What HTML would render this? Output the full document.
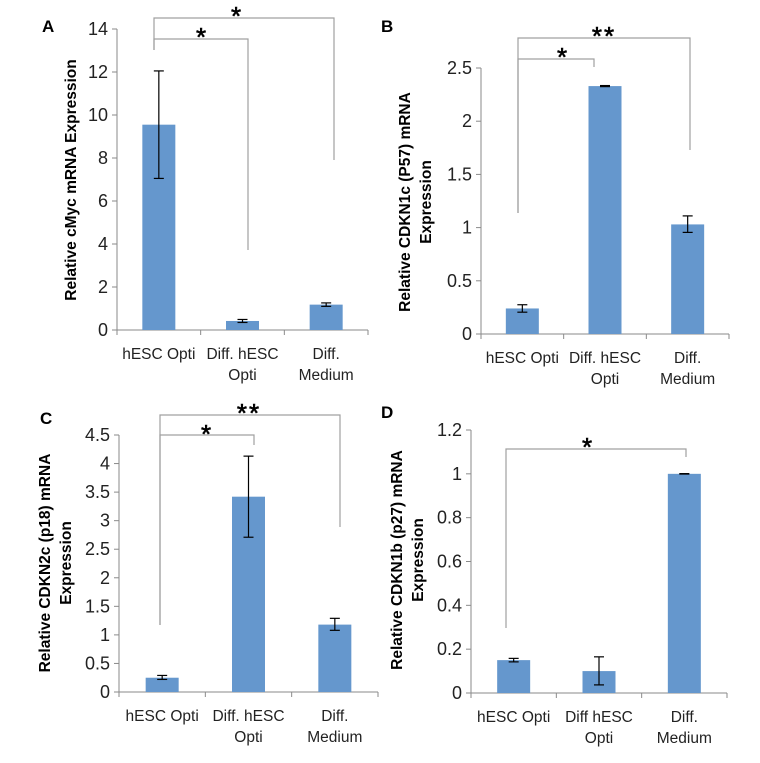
<!DOCTYPE html>
<html><head><meta charset="utf-8"><style>
body{margin:0;background:#fff;}
svg{display:block;font-family:"Liberation Sans",sans-serif;}
</style></head><body>
<svg id="fig" width="760" height="763" viewBox="0 0 760 763"></svg>
<script>
const categoriesA = ["hESC Opti", "Diff. hESC|Opti", "Diff.|Medium"];
const valuesA = [9.55, 0.42, 1.18];
const errLowA = [7.05, 0.35, 1.10];
const errHighA = [12.05, 0.49, 1.26];
const ticksA = [0, 2, 4, 6, 8, 10, 12, 14];

const categoriesB = ["hESC Opti", "Diff. hESC|Opti", "Diff.|Medium"];
const valuesB = [0.24, 2.33, 1.03];
const errLowB = [0.205, 2.325, 0.955];
const errHighB = [0.275, 2.335, 1.11];
const ticksB = [0, 0.5, 1, 1.5, 2, 2.5];

const categoriesC = ["hESC Opti", "Diff. hESC|Opti", "Diff.|Medium"];
const valuesC = [0.25, 3.42, 1.18];
const errLowC = [0.22, 2.71, 1.08];
const errHighC = [0.29, 4.13, 1.29];
const ticksC = [0, 0.5, 1, 1.5, 2, 2.5, 3, 3.5, 4, 4.5];

const categoriesD = ["hESC Opti", "Diff hESC|Opti", "Diff.|Medium"];
const valuesD = [0.15, 0.10, 1.0];
const errLowD = [0.142, 0.037, 0.999];
const errHighD = [0.158, 0.165, 1.001];
const ticksD = [0, 0.2, 0.4, 0.6, 0.8, 1, 1.2];

const NS = "http://www.w3.org/2000/svg";
const svg = document.getElementById("fig");
function mk(tag, attrs, parent, text) {
  const e = document.createElementNS(NS, tag);
  for (const k in attrs) e.setAttribute(k, attrs[k]);
  if (text !== undefined) e.textContent = text;
  (parent || svg).appendChild(e);
  return e;
}

const panels = [
  {id:"a", letter:"A", lx:42, ly:32, x0:117, x1:368, yTop:29, yBot:330, max:14, cats:categoriesA, vals:valuesA, lo:errLowA, hi:errHighA, ticks:ticksA,
   title:["Relative cMyc mRNA Expression"], tx:[76], ty:180,
   brackets:[{x1:154,x2:248,top:39,leftBot:50,rightBot:250,star:"*",sx:202,sy:46},{x1:154,x2:334,top:18,leftBot:50,rightBot:160,star:"*",sx:237,sy:25}]},
  {id:"b", letter:"B", lx:381, ly:32, x0:481, x1:729, yTop:68, yBot:334, max:2.5, cats:categoriesB, vals:valuesB, lo:errLowB, hi:errHighB, ticks:ticksB,
   title:["Relative CDKN1c (P57) mRNA","Expression"], tx:[410, 431], ty:202,
   brackets:[{x1:518,x2:594,top:59,leftBot:213,rightBot:67,star:"*",sx:563,sy:66},{x1:518,x2:690,top:38,leftBot:213,rightBot:150,star:"**",sx:604,sy:45}]},
  {id:"c", letter:"C", lx:40, ly:424, x0:119, x1:378, yTop:435, yBot:692, max:4.5, cats:categoriesC, vals:valuesC, lo:errLowC, hi:errHighC, ticks:ticksC,
   title:["Relative CDKN2c (p18) mRNA","Expression"], tx:[50, 71], ty:563,
   brackets:[{x1:160,x2:254,top:435,leftBot:625,rightBot:445,star:"*",sx:207,sy:443},{x1:160,x2:340,top:415,leftBot:625,rightBot:527,star:"**",sx:249,sy:422}]},
  {id:"d", letter:"D", lx:381, ly:418, x0:471, x1:727, yTop:430, yBot:693, max:1.2, cats:categoriesD, vals:valuesD, lo:errLowD, hi:errHighD, ticks:ticksD,
   title:["Relative CDKN1b (p27) mRNA","Expression"], tx:[402, 423], ty:560,
   brackets:[{x1:506,x2:686,top:449,leftBot:628,rightBot:457,star:"*",sx:588,sy:456}]}
];

panels.forEach(p => {
  const g = mk("g", {});
  
  
  const ys = v => p.yBot - (v / p.max) * (p.yBot - p.yTop);
  const bw = (p.x1 - p.x0) / p.cats.length;
  const xc = i => p.x0 + bw * (i + 0.5);

  const lab = mk("text", {x:p.lx, y:p.ly, "font-size":17, "font-weight":"bold", fill:"#000"}, g, p.letter);
  
  

  const ya = mk("line", {x1:p.x0, y1:p.yTop, x2:p.x0, y2:p.yBot, stroke:"#8a8a8a", "stroke-width":1}, g);
  
  
  const xa = mk("line", {x1:p.x0, y1:p.yBot, x2:p.x1, y2:p.yBot, stroke:"#8a8a8a", "stroke-width":1}, g);
  
  

  p.ticks.forEach(t => {
    const y = ys(t);
    mk("line", {x1:p.x0 - 5, y1:y, x2:p.x0, y2:y, stroke:"#8a8a8a"}, g);
    const tl = mk("text", {x:p.x0 - 9, y:y + 6, "font-size":18, "text-anchor":"end", fill:"#222"}, g, String(t));
    
    
  });
  for (let i = 0; i <= p.cats.length; i++) {
    const x = p.x0 + bw * i;
    mk("line", {x1:x, y1:p.yBot, x2:x, y2:p.yBot + 5, stroke:"#8a8a8a"}, g);
  }

  p.cats.forEach((c, i) => {
    const lines = c.split("|");
    lines.forEach((ln, k) => {
      const t = mk("text", {x:xc(i), y:p.yBot + 29 + k * 21, "font-size":15.5, "text-anchor":"middle", fill:"#222"}, g, ln);
      
      
    });
    const barW = 33;
    const r = mk("rect", {x:xc(i) - barW/2, y:ys(p.vals[i]), width:barW, height:p.yBot - ys(p.vals[i]), fill:"#6597cd"}, g);
    
    
    const eb = mk("g", {stroke:"#000", "stroke-width":1.2}, g);
    
    
    const yl = ys(p.lo[i]), yh = ys(p.hi[i]);
    mk("line", {x1:xc(i), y1:yl, x2:xc(i), y2:yh}, eb);
    mk("line", {x1:xc(i) - 5, y1:yl, x2:xc(i) + 5, y2:yl}, eb);
    mk("line", {x1:xc(i) - 5, y1:yh, x2:xc(i) + 5, y2:yh}, eb);
  });

  p.title.forEach((ln, k) => {
    const t = mk("text", {x:0, y:0, "font-size":15.5, "font-weight":"bold", "text-anchor":"middle", fill:"#000",
      transform:"translate(" + (p.tx[k]) + "," + p.ty + ") rotate(-90)"}, g, ln);
    
    
  });

  p.brackets.forEach(b => {
    const pl = mk("polyline", {points: b.x1 + "," + b.leftBot + " " + b.x1 + "," + b.top + " " + b.x2 + "," + b.top + " " + b.x2 + "," + b.rightBot,
      fill:"none", stroke:"#a0a0a0", "stroke-width":1.2}, g);
    
    
    const s = mk("text", {x:b.sx, y:b.sy, "font-size":26, "text-anchor":"middle", fill:"#000", stroke:"#000", "stroke-width":0.6, "letter-spacing":"2"}, g, b.star);
    
    
  });
});
</script>
</body></html>
